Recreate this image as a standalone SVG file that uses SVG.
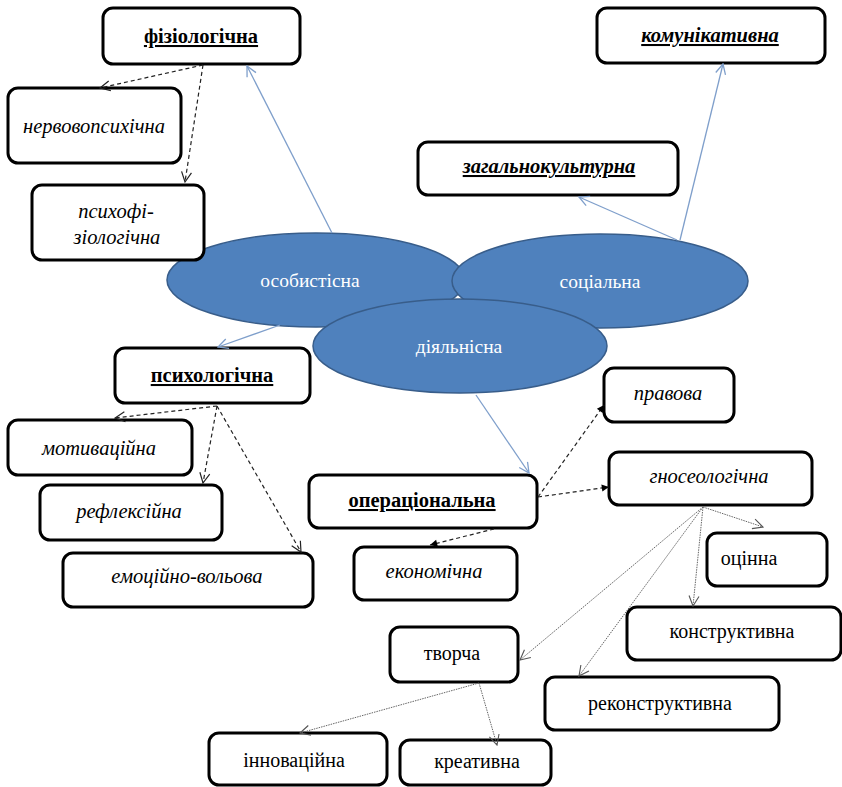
<svg xmlns="http://www.w3.org/2000/svg" width="842" height="787" viewBox="0 0 842 787">
<defs>
<style>
.box{fill:#fff;stroke:#000;stroke-width:3}
text{font-family:'Liberation Serif','Times New Roman','DejaVu Serif',serif}
.t{font-size:20px;fill:#000;text-anchor:middle}
.b{font-weight:bold;text-decoration:underline;font-size:20.5px}
.i{font-style:italic;font-size:20.5px}
.el{fill:#4f81bd;stroke:#385d8a;stroke-width:1.5}
.et{font-size:19.5px;fill:#fff;text-anchor:middle}
.blue{stroke:#7f9fcb;stroke-width:1.3;fill:none;marker-end:url(#mb)}
.dash{stroke:#222;stroke-width:1.2;stroke-dasharray:4 3;fill:none;marker-end:url(#md)}
.dashf{stroke:#222;stroke-width:1.2;stroke-dasharray:4 3;fill:none;marker-end:url(#mf)}
.dot{stroke:#666;stroke-width:1;stroke-dasharray:1.5 1;fill:none;marker-end:url(#mg)}
</style>
<marker id="mb" viewBox="0 0 12 12" refX="11" refY="6" markerWidth="12" markerHeight="12" markerUnits="userSpaceOnUse" orient="auto"><path d="M1,1 L11,6 L1,11" fill="none" stroke="#7f9fcb" stroke-width="1.3"/></marker>
<marker id="md" viewBox="0 0 12 12" refX="11" refY="6" markerWidth="12" markerHeight="12" markerUnits="userSpaceOnUse" orient="auto"><path d="M1,1 L11,6 L1,11" fill="none" stroke="#222" stroke-width="1.2"/></marker>
<marker id="mf" viewBox="0 0 10 10" refX="9" refY="5" markerWidth="9" markerHeight="9" markerUnits="userSpaceOnUse" orient="auto"><path d="M1,1 L9,5 L1,9 Z" fill="#000"/></marker>
<marker id="mg" viewBox="0 0 12 12" refX="11" refY="6" markerWidth="12" markerHeight="12" markerUnits="userSpaceOnUse" orient="auto"><path d="M1,1 L11,6 L1,11" fill="none" stroke="#555" stroke-width="1.1"/></marker>
</defs>
<rect width="842" height="787" fill="#fff"/>

<g id="osobystisna"><ellipse class="el" cx="316" cy="280" rx="149" ry="47"/><text class="et" x="310" y="287">особистісна</text></g>
<g id="sotsialna"><ellipse class="el" cx="600" cy="281" rx="148" ry="47"/><text class="et" x="600" y="288">соціальна</text></g>
<g id="diialnisna"><ellipse class="el" cx="460" cy="346" rx="147" ry="47"/><text class="et" x="459" y="353">діяльнісна</text></g>

<g id="fiziolohichna"><rect class="box" x="103" y="8" width="197" height="56" rx="10"/><text class="t b" x="201" y="43">фізіологічна</text></g>
<g id="nervovopsykhichna"><rect class="box" x="8" y="88" width="173" height="75" rx="10"/><text class="t i" x="94" y="133">нервовопсихічна</text></g>
<g id="psykhofiziolohichna"><rect class="box" x="32" y="185" width="172" height="75" rx="10"/><text class="t i" x="116" y="218">психофі-</text><text class="t i" x="117" y="244">зіологічна</text></g>
<g id="komunikatyvna"><rect class="box" x="597" y="8" width="228" height="55" rx="10"/><text class="t b i" x="710" y="42">комунікативна</text></g>
<g id="zahalnokulturna"><rect class="box" x="418" y="142" width="260" height="53" rx="10"/><text class="t b i" x="549" y="173">загальнокультурна</text></g>
<g id="psykholohichna"><rect class="box" x="115" y="348" width="195" height="55" rx="10"/><text class="t b" x="212" y="382">психологічна</text></g>
<g id="motyvatsiina"><rect class="box" x="8" y="420" width="184" height="55" rx="10"/><text class="t i" x="99" y="455">мотиваційна</text></g>
<g id="refleksiina"><rect class="box" x="40" y="485" width="182" height="55" rx="10"/><text class="t i" x="129" y="518">рефлексійна</text></g>
<g id="emotsiino-volova"><rect class="box" x="63" y="553" width="250" height="54" rx="10"/><text class="t i" x="187" y="583">емоційно-вольова</text></g>
<g id="operatsionalna"><rect class="box" x="309" y="475" width="228" height="53" rx="10"/><text class="t b" x="422" y="507">операціональна</text></g>
<g id="pravova"><rect class="box" x="604" y="368" width="130" height="54" rx="10"/><text class="t i" x="668" y="400">правова</text></g>
<g id="hnoseolohichna"><rect class="box" x="609" y="452" width="203" height="53" rx="10"/><text class="t i" x="709" y="483">гносеологічна</text></g>
<g id="ekonomichna"><rect class="box" x="354" y="547" width="163" height="53" rx="10"/><text class="t i" x="434" y="578">економічна</text></g>
<g id="otsinna"><rect class="box" x="707" y="533" width="120" height="53" rx="10"/><text class="t" x="749" y="565">оцінна</text></g>
<g id="konstruktyvna"><rect class="box" x="627" y="607" width="214" height="53" rx="10"/><text class="t" x="732" y="638">конструктивна</text></g>
<g id="tvorcha"><rect class="box" x="390" y="627" width="128" height="55" rx="10"/><text class="t" x="452" y="660">творча</text></g>
<g id="rekonstruktyvna"><rect class="box" x="545" y="677" width="234" height="53" rx="10"/><text class="t" x="660" y="710">реконструктивна</text></g>
<g id="innovatsiina"><rect class="box" x="209" y="733" width="178" height="52" rx="10"/><text class="t" x="294" y="767">інноваційна</text></g>
<g id="kreatyvna"><rect class="box" x="400" y="740" width="151" height="45" rx="10"/><text class="t" x="477" y="768">креативна</text></g>

<g id="connectors">
<path class="blue" d="M332,233 L247,66"/>
<path class="blue" d="M680,240 L723,64"/>
<path class="blue" d="M677,240 L579,197"/>
<path class="blue" d="M280,325 L218,347"/>
<path class="blue" d="M476,395 L529,473"/>
<path class="dash" d="M203,65 L100,88"/>
<path class="dash" d="M203,65 L185,182"/>
<path class="dash" d="M217,406 L115,418"/>
<path class="dash" d="M217,406 L203,483"/>
<path class="dash" d="M217,406 L301,552"/>
<path class="dashf" d="M538,497 L604,405"/>
<path class="dashf" d="M538,497 L609,487"/>
<path class="dashf" d="M494,529 L430,545"/>
<path class="dot" d="M703,507 L763,527"/>
<path class="dot" d="M703,507 L693,606"/>
<path class="dot" d="M703,507 L579,676"/>
<path class="dot" d="M703,507 L520,660"/>
<path class="dot" d="M479,683 L300,733"/>
<path class="dot" d="M479,683 L497,745"/>
</g>
</svg>
